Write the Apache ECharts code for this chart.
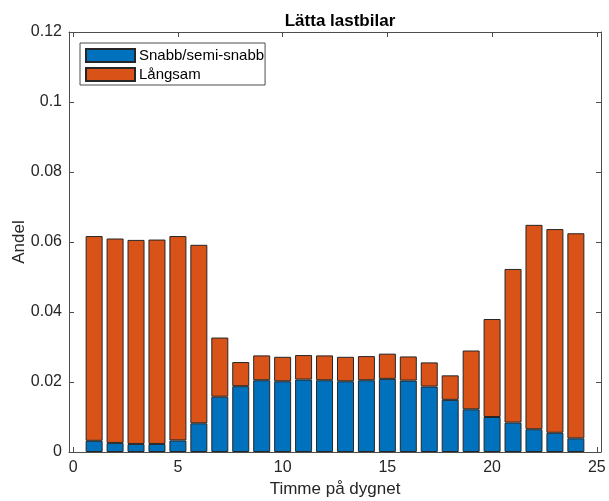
<!DOCTYPE html>
<html>
<head>
<meta charset="utf-8">
<script src="https://cdn.jsdelivr.net/npm/echarts@6/dist/echarts.min.js"></script>
<style>
html,body{margin:0;padding:0;background:#fff;}
#chart{width:609px;height:501px;}
</style>
</head>
<body>
<div id="chart"></div>
<script>
const hours = [1,2,3,4,5,6,7,8,9,10,11,12,13,14,15,16,17,18,19,20,21,22,23,24];
const fastValues = [0.0032,0.0026,0.0023,0.0023,0.0033,0.0082,0.0158,0.0188,0.0205,0.0202,0.0207,0.0205,0.0202,0.0205,0.0209,0.0204,0.0187,0.0149,0.0122,0.0100,0.0084,0.0065,0.0055,0.0039];
const slowValues = [0.0585,0.0584,0.0583,0.0584,0.0584,0.0510,0.0169,0.0069,0.0071,0.0070,0.0070,0.0071,0.0070,0.0069,0.0072,0.0069,0.0069,0.0070,0.0168,0.0280,0.0439,0.0584,0.0582,0.0586];
const xTicks = [0,5,10,15,20,25];
const yTicks = [0,0.02,0.04,0.06,0.08,0.1,0.12];
const seriesNames = ['Snabb/semi-snabb','Långsam'];
const titleText = 'Lätta lastbilar';
const xName = 'Timme på dygnet';
const yName = 'Andel';

const axisCol = '#4d4d4d';
const font = 'Liberation Sans, Arial, sans-serif';
const chart = echarts.init(document.getElementById('chart'), null, {renderer:'canvas'});

const xBase = {
  type:'value', min:-0.2, max:25.2,
  axisLine:{show:true, onZero:false, lineStyle:{color:axisCol, width:1}},
  axisTick:{show:true, inside:true, length:5, customValues:xTicks, lineStyle:{color:axisCol}},
  splitLine:{show:false}
};
const yBase = {
  type:'value', min:0, max:0.12, interval:0.02,
  axisLine:{show:true, onZero:false, lineStyle:{color:axisCol, width:1}},
  axisTick:{show:true, inside:true, length:5, lineStyle:{color:axisCol}},
  splitLine:{show:false}
};

chart.setOption({
  animation:false,
  backgroundColor:'#fff',
  title:{text:titleText, left:335, top:8, textAlign:'center',
    textStyle:{fontFamily:font, fontSize:17, fontWeight:'bold', color:'#000'}},
  grid:{left:69, right:8, top:32, bottom:49, containLabel:false, outerBoundsMode:'none'},
  legend:{
    orient:'vertical', left:80, top:43,
    data:seriesNames,
    icon:'rect',
    itemWidth:49, itemHeight:13, itemGap:4,
    padding:[5,1,3,5],
    borderColor:axisCol, borderWidth:1, backgroundColor:'#fff',
    textStyle:{fontFamily:font, fontSize:15, color:'#000', padding:[0,0,0,-1]}
  },
  xAxis:[
    Object.assign({}, xBase, {position:'bottom',
      name:xName, nameLocation:'middle', nameGap:29, nameMoveOverlap:false,
      nameTextStyle:{fontFamily:font, fontSize:17, color:'#262626'},
      axisLabel:{show:true, customValues:xTicks, margin:8, fontFamily:font, fontSize:16, color:'#262626'}}),
    Object.assign({}, xBase, {position:'top', axisLabel:{show:false}})
  ],
  yAxis:[
    Object.assign({}, yBase, {position:'left',
      name:yName, nameLocation:'middle', nameGap:41, nameMoveOverlap:false,
      nameTextStyle:{fontFamily:font, fontSize:17, color:'#262626'},
      axisLabel:{show:true, margin:7, fontFamily:font, fontSize:16, color:'#262626',
        formatter:function(v){ return String(+v.toFixed(2)); }}}),
    Object.assign({}, yBase, {position:'right', axisLabel:{show:false}})
  ],
  series:[
    {name:seriesNames[0], type:'bar', stack:'total', barWidth:17, xAxisIndex:0, yAxisIndex:0,
      encode:{x:1, y:0},
      itemStyle:{color:'#0072BD', borderColor:'#262626', borderWidth:1},
      data:hours.map((h,i)=>[fastValues[i], h])},
    {name:seriesNames[1], type:'bar', stack:'total', barWidth:17, xAxisIndex:0, yAxisIndex:0,
      encode:{x:1, y:0},
      itemStyle:{color:'#D95319', borderColor:'#262626', borderWidth:1},
      data:hours.map((h,i)=>[slowValues[i], h])}
  ]
});
</script>
</body>
</html>
